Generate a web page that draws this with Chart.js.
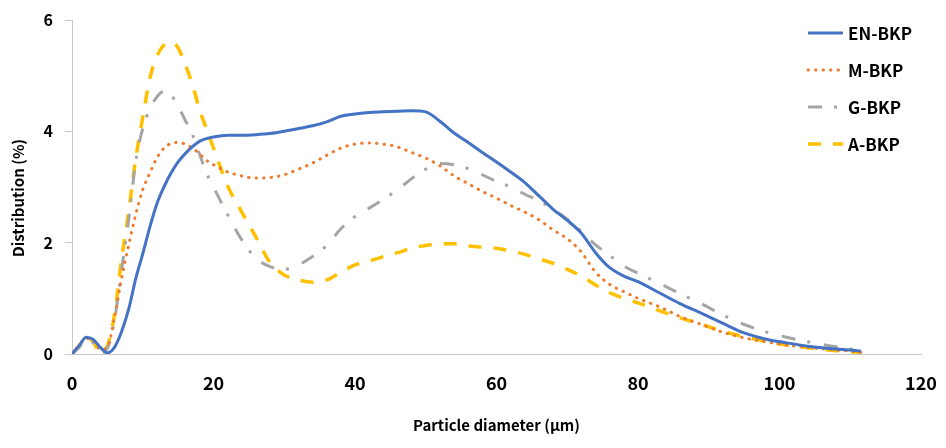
<!DOCTYPE html>
<html><head><meta charset="utf-8">
<script src="https://cdn.jsdelivr.net/npm/chart.js@4"></script>
<style>
html,body{margin:0;padding:0;background:#fff;}
#wrap{position:relative;width:946px;height:448px;}
#legend{position:absolute;left:806px;top:14px;font:bold 17px "Noto Sans CJK KR",sans-serif;color:#000;}
.item{display:flex;align-items:center;height:37px;}
.item svg{margin-right:4px;}
</style></head><body>
<div id="wrap"><canvas id="c" width="946" height="448"></canvas><div id="legend"></div></div>
<script>
const diameter = [0,1,2,3,4,5,6,7,8,9,10,11,12,13,14,15,16,17,18,19,20,22,24,26,28,30,32,34,36,38,40,42,44,46,48,50,52,54,56,58,60,62,64,66,68,70,72,74,76,78,80,83,86,89,92,95,98,101,104,107,110,111.5];
const enBkp = [0,0.15,0.3,0.26,0.12,0.02,0.12,0.4,0.8,1.35,1.8,2.28,2.7,3.0,3.25,3.45,3.6,3.72,3.82,3.87,3.9,3.93,3.93,3.94,3.96,4.0,4.05,4.1,4.17,4.27,4.31,4.34,4.35,4.36,4.37,4.35,4.18,3.97,3.8,3.62,3.45,3.27,3.08,2.84,2.6,2.4,2.17,1.82,1.55,1.4,1.3,1.1,0.9,0.73,0.55,0.38,0.27,0.2,0.14,0.1,0.07,0.05];
const mBkp = [0,0.15,0.28,0.25,0.08,0.12,0.65,1.35,1.95,2.5,2.95,3.25,3.52,3.7,3.78,3.8,3.77,3.7,3.6,3.48,3.4,3.27,3.2,3.16,3.17,3.22,3.32,3.43,3.57,3.7,3.77,3.79,3.77,3.72,3.62,3.52,3.38,3.2,3.06,2.92,2.8,2.67,2.55,2.41,2.23,2.07,1.83,1.47,1.25,1.12,1.0,0.85,0.67,0.53,0.39,0.29,0.22,0.16,0.12,0.08,0.05,0.03];
const gBkp = [0,0.12,0.25,0.2,0.02,0.1,0.6,1.5,2.4,3.45,4.05,4.4,4.62,4.72,4.65,4.45,4.2,3.95,3.6,3.25,3.0,2.5,2.05,1.72,1.57,1.52,1.6,1.75,1.95,2.25,2.47,2.62,2.78,2.95,3.15,3.32,3.42,3.4,3.33,3.22,3.1,3.0,2.87,2.75,2.6,2.42,2.2,1.96,1.77,1.58,1.45,1.27,1.08,0.9,0.7,0.53,0.4,0.3,0.22,0.15,0.09,0.06];
const aBkp = [0,0.15,0.3,0.22,0.02,0.15,0.7,1.7,2.55,3.5,4.25,4.95,5.35,5.55,5.6,5.5,5.2,4.85,4.4,4.05,3.7,3.02,2.55,2.1,1.64,1.42,1.33,1.29,1.33,1.47,1.6,1.67,1.75,1.82,1.9,1.95,1.98,1.98,1.94,1.92,1.9,1.85,1.79,1.71,1.63,1.52,1.4,1.24,1.1,1.0,0.92,0.78,0.65,0.53,0.41,0.31,0.23,0.16,0.11,0.07,0.04,0.03];
const seriesNames = ['EN-BKP','M-BKP','G-BKP','A-BKP'];
const yTicks = [0,2,4,6];
const xTicks = [0,20,40,60,80,100,120];
const xTitle = 'Particle diameter (μm)';
const yTitle = 'Distribution (%)';

const FONT = '"Noto Sans CJK KR", sans-serif';
const styles = [
  {color:'#4472C4', width:3, dash:[], cap:'butt'},
  {color:'#ED7D31', width:3, dash:[0.5,7], cap:'round'},
  {color:'#A5A5A5', width:3, dash:[14,12,3,14], cap:'butt'},
  {color:'#FFC000', width:3.5, dash:[13,12], cap:'butt'}
];
const values = [enBkp, mBkp, gBkp, aBkp];
const datasets = values.map((arr, k) => ({
  label: seriesNames[k],
  data: diameter.map((x, i) => ({x: x, y: arr[i]})),
  borderColor: styles[k].color,
  borderWidth: styles[k].width,
  borderDash: styles[k].dash,
  borderCapStyle: styles[k].cap,
  pointRadius: 0,
  fill: false,
  cubicInterpolationMode: 'monotone'
}));

// y-axis title drawn slightly below the axis centre, as in the reference
const yTitlePlugin = {
  id: 'yTitle',
  afterDraw(chart) {
    const ctx = chart.ctx;
    ctx.save();
    ctx.translate(18, 198);
    ctx.rotate(-Math.PI / 2);
    ctx.font = 'bold 15px ' + FONT;
    ctx.fillStyle = '#000';
    ctx.textAlign = 'center';
    ctx.textBaseline = 'middle';
    ctx.fillText(yTitle, 0, 0);
    ctx.restore();
  }
};

new Chart(document.getElementById('c'), {
  type: 'line',
  data: {datasets: datasets},
  plugins: [yTitlePlugin],
  options: {
    responsive: false,
    animation: false,
    devicePixelRatio: 1,
    layout: {padding: {top: 20, right: 25, left: 0, bottom: 0}},
    plugins: {legend: {display: false}, tooltip: {enabled: false}},
    scales: {
      x: {
        type: 'linear', min: 0, max: 120,
        afterBuildTicks: s => { s.ticks = xTicks.map(v => ({value: v})); },
        afterFit: s => { s.height = 94; s.paddingLeft = 0; s.paddingRight = 0; },
        ticks: {font: {family: FONT, size: 18, weight: 'bold'}, color: '#000', padding: 18, maxRotation: 0},
        grid: {drawOnChartArea: false, drawTicks: false},
        border: {display: true, color: '#C8C8C8', width: 1},
        title: {display: true, text: xTitle, font: {family: FONT, size: 15, weight: 'bold'}, color: '#000', padding: {top: 0, bottom: 14}}
      },
      y: {
        min: 0, max: 6,
        afterBuildTicks: s => { s.ticks = yTicks.map(v => ({value: v})); },
        afterFit: s => { s.width = 72; s.paddingTop = 0; s.paddingBottom = 0; },
        ticks: {font: {family: FONT, size: 16, weight: 'bold'}, color: '#000', padding: 12},
        grid: {drawOnChartArea: false, drawTicks: true, tickLength: 7, color: '#C8C8C8'},
        border: {display: true, color: '#C8C8C8', width: 1},
        title: {display: false}
      }
    }
  }
});

// legend (HTML) built from the series
const leg = document.getElementById('legend');
seriesNames.forEach((name, k) => {
  const st = styles[k];
  const div = document.createElement('div');
  div.className = 'item';
  div.innerHTML = '<svg width="38" height="10"><line x1="2" y1="5" x2="37" y2="5" stroke="' + st.color +
    '" stroke-width="' + st.width + '" stroke-linecap="' + st.cap + '" stroke-dasharray="' +
    (st.dash.length ? st.dash.join(',') : 'none') + '"/></svg><span>' + name + '</span>';
  leg.appendChild(div);
});
</script>
</body></html>
